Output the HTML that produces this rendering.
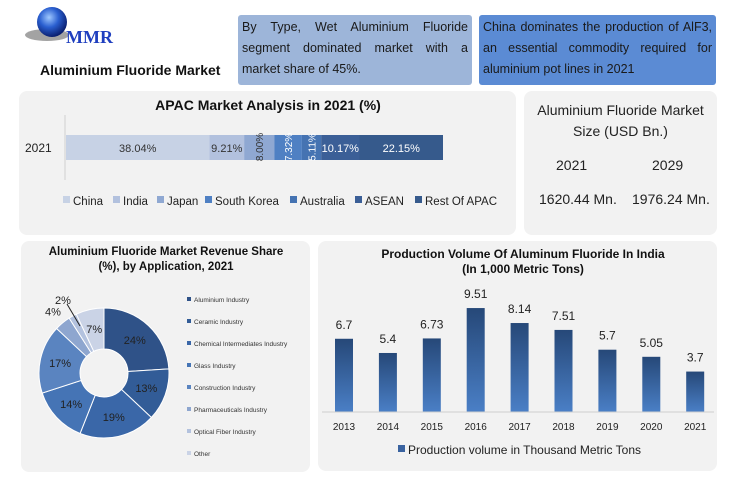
<!DOCTYPE html>
<html><head><meta charset="utf-8"><style>
body{margin:0;width:729px;height:487px;background:#fff;font-family:"Liberation Sans",sans-serif;overflow:hidden;position:relative}
.p{position:absolute;background:#f2f2f2;border-radius:8px}
.box{position:absolute;font-size:12.5px;line-height:21px;padding:2px 4px;text-align:justify;color:#1a1a1a;box-sizing:border-box;border-radius:3px}
svg text{font-family:"Liberation Sans",sans-serif}
</style></head><body>
<svg style="position:absolute;left:25px;top:5px" width="100" height="45">
<defs><radialGradient id="gl" cx="40%" cy="35%" r="65%"><stop offset="0" stop-color="#9fc8ff"/><stop offset="0.5" stop-color="#2a5fd0"/><stop offset="1" stop-color="#0a1f70"/></radialGradient></defs>
<ellipse cx="22" cy="30" rx="22" ry="6" fill="#666" opacity="0.6"/>
<circle cx="27" cy="17" r="15" fill="url(#gl)"/>
<text x="41" y="38" style="font-family:'Liberation Serif',serif" font-weight="bold" font-size="18" fill="#1f3fbf">MMR</text>
</svg>
<div style="position:absolute;left:40px;top:62px;font-size:14px;font-weight:bold;color:#111">Aluminium Fluoride Market</div>
<div class="box" style="left:238px;top:15px;width:234px;height:70px;background:#9db5d9">By Type, Wet Aluminium Fluoride segment dominated market with a market share of 45%.</div>
<div class="box" style="left:479px;top:15px;width:237px;height:70px;background:#5b8bd4">China dominates the production of AlF3, an essential commodity required for aluminium pot lines in 2021</div>

<div class="p" style="left:19px;top:91px;width:497px;height:144px"></div>
<div class="p" style="left:524px;top:91px;width:193px;height:144px"></div>
<div class="p" style="left:21px;top:241px;width:289px;height:231px"></div>
<div class="p" style="left:318px;top:241px;width:399px;height:230px"></div>

<div style="position:absolute;left:524px;top:100px;width:193px;text-align:center;font-size:14px;line-height:21px;color:#222">Aluminium Fluoride Market<br>Size (USD Bn.)</div>
<div style="position:absolute;left:556px;top:157px;font-size:14px;color:#222">2021</div>
<div style="position:absolute;left:652px;top:157px;font-size:14px;color:#222">2029</div>
<div style="position:absolute;left:539px;top:191px;font-size:14px;color:#222">1620.44 Mn.</div>
<div style="position:absolute;left:632px;top:191px;font-size:14px;color:#222">1976.24 Mn.</div>

<svg id="apac" style="position:absolute;left:0;top:0" width="729" height="240"></svg>
<svg id="donut" style="position:absolute;left:0;top:240px" width="318" height="240"></svg>
<svg id="bars" style="position:absolute;left:318px;top:240px" width="411" height="240"></svg>

<script>
const NS="http://www.w3.org/2000/svg";
function mk(p,t,a){const e=document.createElementNS(NS,t);for(const k in a)e.setAttribute(k,a[k]);p.appendChild(e);return e;}

// APAC stacked bar
const apacCats=["China","India","Japan","South Korea","Australia","ASEAN","Rest Of APAC"];
const apacVals=[38.04,9.21,8.00,7.32,5.11,10.17,22.15];
const apacColors=["#c7d2e5","#b2c1de","#8fa8d2","#4f80c3","#4573b2","#3b5f97","#365a8c"];
(function(){
 const s=document.getElementById('apac');
 const x0=66,x1=443,total=apacVals.reduce((a,b)=>a+b,0);
 const X=v=>x0+(x1-x0)*v/total;
 let t=mk(s,'text',{x:268,y:110,'font-size':14,'font-weight':'bold','text-anchor':'middle',fill:'#111'});t.textContent="APAC Market Analysis in 2021 (%)";
 
 let ax=mk(s,'line',{x1:65,y1:115,x2:65,y2:180,stroke:'#d0d0d0'});
 
 t=mk(s,'text',{x:25,y:152,'font-size':12,fill:'#222'});t.textContent="2021";
 
 let c=0;
 apacVals.forEach((v,i)=>{
  const r=mk(s,'rect',{x:X(c),y:135,width:X(c+v)-X(c),height:25,fill:apacColors[i]});
  
  const cx=(X(c)+X(c+v))/2;
  const lbl=v.toFixed(2)+"%";
  const col=i<3?'#333':'#fff';
  let tt;
  if(X(c+v)-X(c)<32){tt=mk(s,'text',{x:cx+4,y:147,'font-size':10,'text-anchor':'middle',fill:col,transform:`rotate(-90 ${cx+4} 147)`});}
  else tt=mk(s,'text',{x:cx,y:152,'font-size':11,'text-anchor':'middle',fill:col});
  tt.textContent=lbl;
  c+=v;
 });
 const lx=[63,113,157,205,290,355,415];
 apacCats.forEach((n,i)=>{
  const g=mk(s,'g',{});
  mk(g,'rect',{x:lx[i],y:196,width:7,height:7,fill:apacColors[i]});
  const tt=mk(g,'text',{x:lx[i]+10,y:205,'font-size':11.5,fill:'#222'});tt.textContent=n;
 });
})();

// Donut
const appCats=["Aluminium Industry","Ceramic Industry","Chemical Intermediates Industry","Glass Industry","Construction Industry","Pharmaceuticals Industry","Optical Fiber Industry","Other"];
const appVals=[24,13,19,14,17,4,2,7];
const appColors=["#2f5288","#325c97","#3a67a8","#4574b5","#5a84c0","#8ea6cf","#b3c2de","#cad3e6"];
(function(){
 const s=document.getElementById('donut');
 let t=mk(s,'text',{x:166,y:15,'font-size':11.5,'font-weight':'bold','text-anchor':'middle',fill:'#111'});t.textContent="Aluminium Fluoride Market  Revenue Share";
 
 t=mk(s,'text',{x:166,y:30,'font-size':11.5,'font-weight':'bold','text-anchor':'middle',fill:'#111'});t.textContent="(%), by Application, 2021";
 
 const cx=104,cy=133,R=65,r=24,tot=appVals.reduce((a,b)=>a+b,0);
 const P=(rad,a)=>[cx+rad*Math.sin(a),cy-rad*Math.cos(a)];
 let c=0;
 appVals.forEach((v,i)=>{
  const a0=c/tot*2*Math.PI,a1=(c+v)/tot*2*Math.PI;const lg=a1-a0>Math.PI?1:0;
  const [x0,y0]=P(R,a0),[x1,y1]=P(R,a1),[x2,y2]=P(r,a1),[x3,y3]=P(r,a0);
  const p=mk(s,'path',{d:`M${x0},${y0}A${R},${R} 0 ${lg} 1 ${x1},${y1}L${x2},${y2}A${r},${r} 0 ${lg} 0 ${x3},${y3}Z`,fill:appColors[i],stroke:'#fff','stroke-width':1});
  
  const am=(a0+a1)/2;
  let [lx,ly]=P(45,am);
  if(i==5){[lx,ly]=P(80,am);} 
  if(i==6){[lx,ly]=[63,60];mk(s,'line',{x1:67,y1:64,x2:80,y2:86,stroke:'#222'});}
  const tt=mk(s,'text',{x:lx,y:ly+4,'font-size':11,'text-anchor':'middle',fill:'#222'});tt.textContent=v+"%";
  
  c+=v;
 });
 appCats.forEach((n,i)=>{
  const y=62+i*22;
  const g=mk(s,'g',{});
  mk(g,'rect',{x:187,y:y-5,width:4,height:4,fill:appColors[i]});
  const tt=mk(g,'text',{x:194,y:y,'font-size':6.5,fill:'#333'});tt.textContent=n;
 });
})();

// Production bars
const years=["2013","2014","2015","2016","2017","2018","2019","2020","2021"];
const prod=[6.7,5.4,6.73,9.51,8.14,7.51,5.7,5.05,3.7];
const prodLabels=["6.7","5.4","6.73","9.51","8.14","7.51","5.7","5.05","3.7"];
(function(){
 const s=document.getElementById('bars');
 const d=mk(s,'defs',{});const lg=mk(d,'linearGradient',{id:'bg',x1:0,y1:0,x2:0,y2:1});
 mk(lg,'stop',{offset:0,'stop-color':'#264878'});mk(lg,'stop',{offset:1,'stop-color':'#4a7fc6'});
 let t=mk(s,'text',{x:205,y:18,'font-size':12,'font-weight':'bold','text-anchor':'middle',fill:'#111'});t.textContent="Production Volume Of Aluminum Fluoride In India";
 
 t=mk(s,'text',{x:205,y:33,'font-size':12,'font-weight':'bold','text-anchor':'middle',fill:'#111'});t.textContent="(In 1,000 Metric Tons)";
 
 const base=172,scale=10.93;
 const X=i=>26+i*43.9;const Y=v=>base-v*scale;
 prod.forEach((v,i)=>{
  const b=mk(s,'rect',{x:X(i)-9,y:Y(v),width:18,height:base-Y(v),fill:'url(#bg)'});
  
  const l=mk(s,'text',{x:X(i),y:Y(v)-10,'font-size':12,'text-anchor':'middle',fill:'#222'});l.textContent=prodLabels[i];
  
  const yl=mk(s,'text',{x:X(i),y:190,'font-size':10,'text-anchor':'middle',fill:'#222'});yl.textContent=years[i];
  
 });
 const ax=mk(s,'line',{x1:4,y1:base,x2:396,y2:base,stroke:'#cfcfcf'});
 
 const g=mk(s,'g',{});
 mk(g,'rect',{x:80,y:205,width:7,height:7,fill:'#3a63a0'});
 const lt=mk(g,'text',{x:90,y:214,'font-size':12,fill:'#222'});lt.textContent="Production volume in Thousand Metric Tons";
})();
</script>
</body></html>
